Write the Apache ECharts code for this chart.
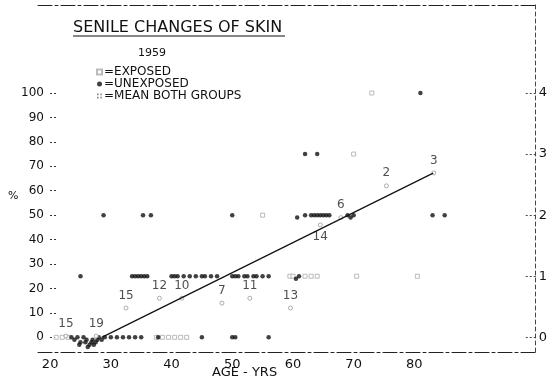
<!DOCTYPE html>
<html>
<head>
<meta charset="utf-8">
<script src="https://cdn.jsdelivr.net/npm/echarts@6/dist/echarts.min.js"></script>
<style>
  html, body { margin: 0; padding: 0; background: #fff; }
  #chart { width: 550px; height: 389px; }
</style>
</head>
<body>
<div id="chart"></div>
<script>
// Senile changes of skin, 1959 survey: score (0-4, shown as %) against age.
const FONT = 'DejaVu Sans';

// Tick labels
const xTicks = [20, 30, 40, 50, 60, 70, 80];
const yTicks = [0, 10, 20, 30, 40, 50, 60, 70, 80, 90, 100];
const scoreTicks = [0, 1, 2, 3, 4];

// Exposed skin (open markers)
const exposedAge = [21, 22, 23, 37.5, 38.5, 39.5, 40.5, 41.5, 42.5,
                    59.5, 60, 62, 63, 64, 70.5, 80.5, 55, 70, 73];
const exposedPct = [0, 0, 0, 0, 0, 0, 0, 0, 0,
                    25, 25, 25, 25, 25, 25, 25, 50, 75, 100];

// Unexposed skin (filled dots)
const unexposedAge = [23.5, 24, 24.5, 24.8, 25, 25.5, 25.8, 26, 26.2, 26.5, 26.8, 27, 27.2, 27.5, 27.8, 28, 28.5, 29, 30, 31, 32, 33, 34, 35, 37.8, 45, 50, 50.5, 56,
                      25, 33.5, 34, 34.5, 35, 35.5, 36, 40, 40.5, 41, 42, 43, 44, 45, 45.5, 46.5, 47.5,
                      50, 50.5, 51, 52, 52.5, 53.5, 54, 55, 56, 60.5, 61,
                      28.8, 35.3, 36.6, 50, 60.7, 62, 63, 63.5, 64, 64.5, 65, 65.5, 66, 69, 69.5, 70, 83, 85,
                      62, 64, 81];
const unexposedPct = [0, -1, 0, -3, -2, 0, -2, -1, -4, -3, -2, -1, -3, -2, -1, 0, -1, 0, 0, 0, 0, 0, 0, 0, 0, 0, 0, 0, 0,
                      25, 25, 25, 25, 25, 25, 25, 25, 25, 25, 25, 25, 25, 25, 25, 25, 25,
                      25, 25, 25, 25, 25, 25, 25, 25, 25, 24, 25,
                      50, 50, 50, 50, 49, 50, 50, 50, 50, 50, 50, 50, 50, 50, 49, 50, 50, 50,
                      75, 75, 100];

// Means of both groups, labelled with the number of subjects
const meanAge = [22.6, 27.6, 32.5, 38, 41.7, 48.3, 52.9, 59.6, 64.5, 67.9, 75.4, 83.2];
const meanPct = [0.5, 0.5, 12, 16, 16, 14, 16, 12, 46, 49, 62, 67.3];
const meanN   = [15, 19, 15, 12, 10, 7, 11, 13, 14, 6, 2, 3];

// Fitted trend through the means
const trendAge = [28.5, 83.1];
const trendPct = [0, 67.2];

const pairs = (xs, ys) => xs.map((x, i) => [x, ys[i]]);

const frameLine = { color: '#222', width: 1, type: [14, 3, 3, 3] };

const chart = echarts.init(document.getElementById('chart'), null, { renderer: 'canvas' });

chart.setOption({
  animation: false,
  backgroundColor: '#fff',
  textStyle: { fontFamily: FONT, color: '#111' },
  title: [
    { text: 'SENILE CHANGES OF SKIN', left: 73, top: 20, padding: 0,
      textStyle: { fontFamily: FONT, fontSize: 16, fontWeight: 'normal', color: '#111' } },
    { text: '1959', left: 138, top: 48, padding: 0,
      textStyle: { fontFamily: FONT, fontSize: 11, fontWeight: 'normal', color: '#111' } }
  ],
  legend: {
    orient: 'vertical',
    left: 96, top: 66, padding: 0,
    itemWidth: 5, itemHeight: 5, itemGap: 0,
    textStyle: { fontFamily: FONT, fontSize: 12, color: '#111', lineHeight: 12, padding: [0, 0, 0, -3] },
    formatter: name => '=' + name,
    data: [
      { name: 'EXPOSED', icon: 'rect' },
      { name: 'UNEXPOSED', icon: 'circle' },
      { name: 'MEAN BOTH GROUPS', icon: 'path://M0,0h2v2h-2zM4,0h2v2h-2zM0,4h2v2h-2zM4,4h2v2h-2z',
        itemStyle: { color: '#777', borderWidth: 0 } }
    ]
  },
  grid: { left: 38, right: 13, top: 5, bottom: 37, containLabel: false },
  xAxis: [
    { type: 'value', min: 18, max: 100, position: 'bottom',
      axisLine: { show: true, onZero: false, lineStyle: frameLine },
      axisTick: { show: false }, splitLine: { show: false },
      axisLabel: { customValues: xTicks, fontSize: 13, color: '#111', margin: 6, fontFamily: FONT } },
    { type: 'value', min: 18, max: 100, position: 'top',
      axisLine: { show: true, onZero: false, lineStyle: frameLine },
      axisTick: { show: false }, axisLabel: { show: false }, splitLine: { show: false } }
  ],
  yAxis: [
    { type: 'value', min: -6, max: 136, position: 'left', offset: -12,
      axisLine: { show: false, onZero: false },
      axisTick: { show: true, inside: true, length: 8, customValues: yTicks,
                  lineStyle: { color: '#333', type: [2, 2] } },
      axisLabel: { customValues: yTicks, fontSize: 12, color: '#111', margin: 6, fontFamily: FONT },
      splitLine: { show: false } },
    { type: 'value', min: -0.24, max: 5.44, position: 'right',
      axisLine: { show: true, onZero: false, lineStyle: { color: '#444', width: 1, type: [4, 3] } },
      axisTick: { show: true, inside: true, length: 10, customValues: scoreTicks,
                  lineStyle: { color: '#444', type: [2, 2] } },
      axisLabel: { customValues: scoreTicks, fontSize: 13, color: '#111', margin: 3, fontFamily: FONT },
      splitLine: { show: false } }
  ],
  graphic: [
    { type: 'line', shape: { x1: 73, y1: 36, x2: 285, y2: 36 }, style: { stroke: '#111', lineWidth: 1.2 } },
    { type: 'text', left: 8, top: 191, style: { text: '%', font: '11px "DejaVu Sans"', fill: '#111' } },
    { type: 'text', left: 212, top: 366, style: { text: 'AGE - YRS', font: '13px "DejaVu Sans"', fill: '#111' } }
  ],
  series: [
    { name: 'EXPOSED', type: 'scatter', data: pairs(exposedAge, exposedPct),
      symbol: 'rect', symbolSize: 4,
      itemStyle: { color: '#fff', borderColor: '#aaa', borderWidth: 1 } },
    { name: 'UNEXPOSED', type: 'scatter', data: pairs(unexposedAge, unexposedPct),
      symbol: 'circle', symbolSize: 4.5,
      itemStyle: { color: '#111' } },
    { name: 'MEAN BOTH GROUPS', type: 'scatter', data: pairs(meanAge, meanPct),
      symbol: 'circle', symbolSize: 4,
      itemStyle: { color: '#fff', borderColor: '#999', borderWidth: 1 },
      label: { show: true, position: 'top', distance: 4, fontSize: 12, color: '#222', fontFamily: FONT,
               formatter: p => String(meanN[p.dataIndex]) },
      labelLayout: p => (meanN[p.dataIndex] === 14 ? { dy: 24 } : {}) },
    { name: 'trend', type: 'line', data: pairs(trendAge, trendPct),
      symbol: 'none', lineStyle: { color: '#111', width: 1.2 }, silent: true }
  ]
});
</script>
</body>
</html>
